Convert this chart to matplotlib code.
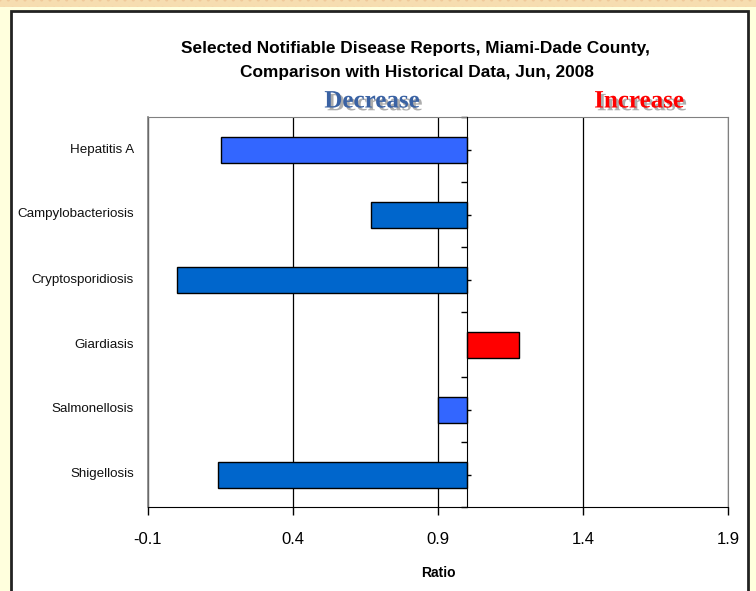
import matplotlib.pyplot as plt
import matplotlib.patheffects as pe
from matplotlib.patches import Rectangle
from matplotlib.transforms import blended_transform_factory

plt.rcParams['font.family'] = ['Liberation Sans', 'DejaVu Sans']

diseases = ['Hepatitis A', 'Campylobacteriosis', 'Cryptosporidiosis',
            'Giardiasis', 'Salmonellosis', 'Shigellosis']
ratios = [0.15, 0.67, 0.0, 1.18, 0.90, 0.14]
bar_colors = ['#3366FF', '#0066CC', '#0066CC', '#FF0000', '#3366FF', '#0066CC']
baseline = 1.0
xticks = [-0.1, 0.4, 0.9, 1.4, 1.9]
xtick_labels = ['-0.1', '0.4', '0.9', '1.4', '1.9']

W, H = 756, 591
fig = plt.figure(figsize=(W / 100, H / 100), dpi=100)
fig.patch.set_facecolor('#FFFFDD')

# page strip along the top and the white chart panel
fig.add_artist(Rectangle((0, 1 - 7 / H), 1, 7 / H, transform=fig.transFigure,
                         facecolor='#F6DDB0', edgecolor='#EFC99A', hatch='..',
                         linewidth=0, zorder=0))
fig.add_artist(Rectangle((11 / W, -0.01), 737 / W, 1 - 11 / H + 0.01,
                         transform=fig.transFigure, facecolor='white',
                         edgecolor='#222222', linewidth=2, zorder=0))

ax = fig.add_axes([148 / W, 1 - 507 / H, 580 / W, 390 / H])
ax.set_facecolor('none')

ypos = list(range(len(diseases)))
widths = [r - baseline for r in ratios]
ax.barh(ypos, widths, left=baseline, height=0.4, color=bar_colors,
        edgecolor='black', linewidth=1, zorder=3)

ax.set_xlim(-0.1, 1.9)
ax.set_ylim(len(diseases) - 0.5, -0.5)

ax.set_xticks(xticks)
ax.set_xticklabels(xtick_labels, fontsize=12)
ax.tick_params(axis='x', direction='out', length=6, width=1, color='black', pad=12)
ax.grid(axis='x', color='black', linewidth=0.9, zorder=1)

# category axis crosses at ratio 1.0
ax.spines['left'].set_position(('data', baseline))
ax.spines['left'].set_color('black')
ax.spines['left'].set_zorder(4)
ax.set_yticks([i + 0.5 for i in range(-1, len(diseases))])
ax.set_yticklabels([])
ax.set_yticks(ypos, minor=True)
ax.tick_params(axis='y', which='major', direction='out', length=4, width=1, color='black')
ax.tick_params(axis='y', which='minor', direction='in', length=3, width=1, color='black')

for side in ('top', 'right'):
    ax.spines[side].set_color('#808080')
ax.spines['bottom'].set_color('black')
ax.axvline(-0.1, color='#808080', linewidth=1.2, clip_on=False, zorder=2)

lab_tf = blended_transform_factory(ax.transAxes, ax.transData)
for y, name in zip(ypos, diseases):
    ax.text(-0.024, y, name, transform=lab_tf, ha='right', va='center',
            fontsize=9.6, color='#111111')

ax.set_xlabel('Ratio', fontsize=10, fontweight='bold', labelpad=14)

fig.text(415 / W, 1 - 48 / H, 'Selected Notifiable Disease Reports, Miami-Dade County,',
         ha='center', va='center', fontsize=12.4, fontweight='bold')
fig.text(417 / W, 1 - 73 / H, 'Comparison with Historical Data, Jun, 2008',
         ha='center', va='center', fontsize=12.4, fontweight='bold')

shadow = [pe.withSimplePatchShadow(offset=(2, -2), shadow_rgbFace='#999999', alpha=0.8)]
fig.text(372 / W, 1 - 101 / H, 'Decrease', ha='center', va='center',
         fontsize=18, fontweight='bold', family='Liberation Serif',
         color='#3A62A3', path_effects=shadow)
fig.text(639 / W, 1 - 101 / H, 'Increase', ha='center', va='center',
         fontsize=18, fontweight='bold', family='Liberation Serif',
         color='#FF0000', path_effects=shadow)

fig.savefig('out.png', dpi=100, facecolor=fig.get_facecolor())
